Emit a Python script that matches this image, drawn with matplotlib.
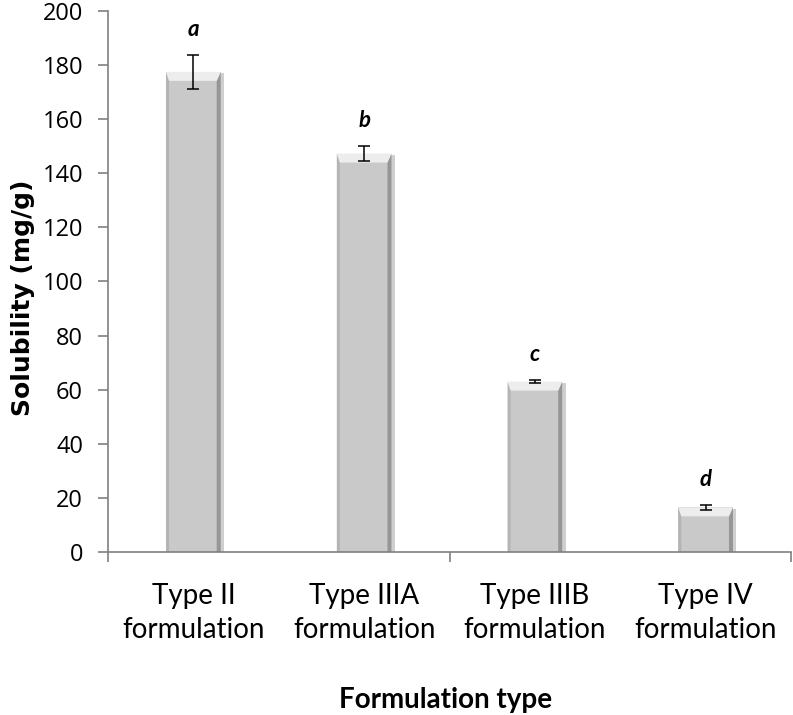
import matplotlib
matplotlib.use("Agg")
import matplotlib.pyplot as plt
import matplotlib.patheffects as pe
from matplotlib.patches import Polygon

categories = ["Type II\nformulation", "Type IIIA\nformulation",
              "Type IIIB\nformulation", "Type IV\nformulation"]
solubility = [177.5, 147.3, 63.0, 16.5]
errors = [6.3, 2.8, 0.7, 1.0]
letters = ["a", "b", "c", "d"]

fig = plt.figure(figsize=(7.93, 7.15), dpi=100)
ax = fig.add_axes([0.1362, 0.228, 0.8613, 0.7566])
ax.set_ylim(0, 200)
ax.set_xlim(-0.5, 3.5)

x = list(range(len(categories)))
bars = ax.bar(x, solubility, width=0.32, color="#c9c9c9", linewidth=0, zorder=2)
for b in bars:
    b.set_path_effects([pe.SimplePatchShadow(offset=(2.5, -1), shadow_rgbFace="#888888", alpha=0.4),
                        pe.Normal()])

# bevel look: light top band, darker side strips (pixel sizes -> data units)
inv = ax.transData.inverted()
def px(dx, dy):
    (a, b), (c, d) = inv.transform([(0, 0), (dx, dy)])
    return c - a, d - b

sl, _ = px(3, 0)
sr, _ = px(4, 0)
_, bh = px(0, 9)
for b in bars:
    x0, x1 = b.get_x(), b.get_x() + b.get_width()
    y1 = b.get_height()
    h = min(bh, y1 * 0.5)
    ax.add_patch(Polygon([(x0, 0), (x0 + sl, 0), (x0 + sl, y1 - h), (x0, y1)],
                         closed=True, color="#b4b4b4", lw=0, zorder=2.1))
    ax.add_patch(Polygon([(x1 - sr, 0), (x1, 0), (x1, y1), (x1 - sr, y1 - h)],
                         closed=True, color="#969696", lw=0, zorder=2.1))
    ax.add_patch(Polygon([(x0, y1), (x1, y1), (x1 - sr, y1 - h), (x0 + sl, y1 - h)],
                         closed=True, color="#ededed", lw=0, zorder=2.1))

ax.errorbar(x, solubility, yerr=errors, fmt="none", ecolor="black",
            elinewidth=1.1, capsize=4, capthick=1.1, zorder=3)

for xi, v, e, lab in zip(x, solubility, errors, letters):
    ax.annotate(lab, (xi, v + e), textcoords="offset points", xytext=(0, 18),
                ha="center", va="center", fontsize=16, fontweight="bold",
                fontstyle="italic", family="Lato")

ax.set_yticks(range(0, 201, 20))
ax.set_xticks([-0.5, 1.5, 3.5])
ax.set_xticklabels([])
ax.set_xticks(x, minor=True)
ax.set_xticklabels(categories, minor=True, fontsize=20, family="Lato", linespacing=1.42)
ax.tick_params(axis="x", which="minor", length=0, pad=22)
ax.tick_params(axis="x", which="major", length=7, width=1.2, color="#808080", direction="out")
ax.tick_params(axis="y", length=7, width=1.2, color="#808080", direction="out", labelsize=17, pad=11)
for lbl in ax.get_yticklabels():
    lbl.set_family("Open Sans")

for s in ["top", "right"]:
    ax.spines[s].set_visible(False)
for s in ["left", "bottom"]:
    ax.spines[s].set_color("#808080")
    ax.spines[s].set_linewidth(1.2)

ax.set_ylabel("Solubility (mg/g)", fontsize=18, fontweight="bold", family="DejaVu Sans")
ax.yaxis.set_label_coords(-0.125, 0.47)
ax.yaxis.label.set_va("center")
ax.set_xlabel("Formulation type", fontsize=20, fontweight="bold", family="Lato")
ax.xaxis.set_label_coords(0.494, -0.273)
ax.xaxis.label.set_va("center")

fig.savefig("out.png", dpi=100)
